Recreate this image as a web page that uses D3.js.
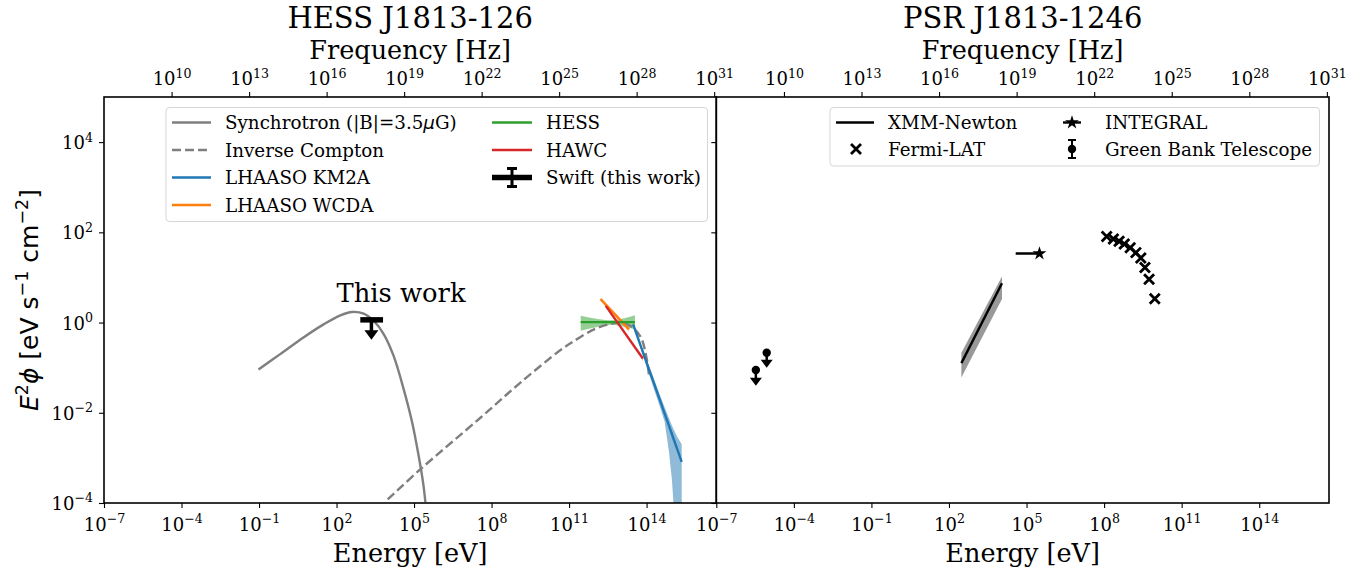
<!doctype html>
<html>
<head>
<meta charset="utf-8">
<script src="https://cdnjs.cloudflare.com/ajax/libs/d3/7.8.5/d3.min.js"></script>
<style>
body { margin: 0; background: #fff; }
svg text { font-family: "DejaVu Serif", serif; fill: #000; }
</style>
</head>
<body>
<svg id="chart" width="1367" height="570"></svg>
<script>
// values are log10 of energy [eV] and of E^2 phi [eV s^-1 cm^-2]

// HESS J1813-126 panel
const syncLogE = [-1.02, -0.18, 0.72, 1.50, 2.15, 2.60, 3.05, 3.44, 3.83, 4.21, 4.60, 4.93, 5.18, 5.35, 5.44];
const syncLogF = [-1.04, -0.70, -0.33, -0.04, 0.16, 0.235, 0.20, 0.035, -0.26, -0.74, -1.48, -2.22, -2.96, -3.55, -3.98];
const icLogE = [3.98, 5.25, 7.57, 9.12, 10.67, 11.19, 11.97, 12.53, 13.0, 13.39, 13.78, 13.97, 14.09];
const icLogF = [-3.92, -3.25, -2.11, -1.33, -0.61, -0.41, -0.15, -0.04, 0.0, -0.08, -0.33, -0.70, -1.15];

const km2aLogE = [13.48, 13.8, 14.16, 14.5, 14.7, 14.87, 14.98, 15.04, 15.2, 15.36];
const km2aLogF = [-0.04, -0.56, -1.14, -1.69, -2.02, -2.29, -2.47, -2.57, -2.83, -3.09];
const km2aHi = [0.0, -0.52, -1.07, -1.58, -1.88, -2.12, -2.28, -2.36, -2.55, -2.70];
const km2aLo = [-0.08, -0.62, -1.26, -1.84, -2.2, -2.88, -3.48, -3.99, -5.0, -5.0];

const wcdaLogE = [12.22, 13.32];
const wcdaLogF = [0.52, -0.15];
const wcdaHi = [0.56, -0.10];
const wcdaLo = [0.48, -0.21];

const hessLogE = [11.45, 12.0, 12.67, 13.1, 13.55];
const hessLogF = [0.01, 0.01, 0.01, 0.01, 0.01];
const hessHi = [0.15, 0.09, 0.05, 0.09, 0.16];
const hessLo = [-0.18, -0.11, -0.05, -0.09, -0.15];

const hawcLogE = [12.42, 13.86];
const hawcLogF = [0.37, -0.80];
const hawcHi = [0.39, -0.75];
const hawcLo = [0.35, -0.86];

const swiftLogE = [3.35];
const swiftLogELo = [2.92];
const swiftLogEHi = [3.80];
const swiftLogF = [0.06];
const swiftTipLogF = [-0.38];

// PSR J1813-1246 panel
const gbtLogE = [-5.47, -5.05];
const gbtLogF = [-1.05, -0.67];
const gbtTipLogF = [-1.40, -1.00];

const xmmLogE = [2.48, 4.05];
const xmmLogF = [-0.90, 0.87];
const xmmHi = [-0.67, 1.02];
const xmmLo = [-1.22, 0.52];

const integralLogE = [5.50];
const integralLogELo = [4.58];
const integralLogEHi = [5.60];
const integralLogF = [1.53];

const fermiLogE = [8.10, 8.36, 8.58, 8.78, 9.01, 9.23, 9.42, 9.58, 9.74, 9.96];
const fermiLogF = [1.91, 1.85, 1.80, 1.74, 1.66, 1.55, 1.43, 1.22, 0.96, 0.53];

// ticks (exponents)
const energyTicks = [-7, -4, -1, 2, 5, 8, 11, 14];
const freqTicks = [10, 13, 16, 19, 22, 25, 28, 31];
const fluxTicks = [-4, -2, 0, 2, 4];

const hzPerEv = 2.418e14;
const eDomain = [1e-7, 5e16];
const yTop = 97, yBot = 503;

const svg = d3.select("#chart");
const y = d3.scaleLog().domain([1e-4, 1e5]).range([yBot, yTop]);

const panels = [
  { x0: 104, x1: 716.3, title: "HESS J1813-126", id: "left" },
  { x0: 716.3, x1: 1329, title: "PSR J1813-1246", id: "right" }
];

const sup = s => s.replace("-", "\u2212");

function powLabel(sel, fs) {
  sel.each(function(d) {
    const t = d3.select(this);
    const exp = Math.round(Math.log10(d));
    t.text(null);
    t.append("tspan").text("10");
    t.append("tspan").attr("dy", -fs * 0.42).attr("font-size", fs * 0.7).text(sup(String(exp)));
  });
}

function styleAxis(g) {
  g.attr("font-family", null).attr("font-size", null);
  g.select(".domain").remove();
  g.selectAll(".tick line").attr("stroke", "#000").attr("stroke-width", 1.1);
}

panels.forEach(p => {
  p.x = d3.scaleLog().domain(eDomain).range([p.x0, p.x1]);
  p.xf = d3.scaleLog().domain(eDomain.map(e => e * hzPerEv)).range([p.x0, p.x1]);

  svg.append("clipPath").attr("id", "clip-" + p.id)
    .append("rect").attr("x", p.x0).attr("y", yTop).attr("width", p.x1 - p.x0).attr("height", yBot - yTop);

  // bottom axis
  const gb = svg.append("g").attr("transform", `translate(0,${yBot})`)
    .call(d3.axisBottom(p.x).tickValues(energyTicks.map(e => Math.pow(10, e))).tickSize(5).tickPadding(4));
  styleAxis(gb);
  gb.selectAll(".tick text").attr("font-size", 18).attr("dy", "1.05em").call(powLabel, 18);

  // top axis (frequency)
  const gt = svg.append("g").attr("transform", `translate(0,${yTop})`)
    .call(d3.axisTop(p.xf).tickValues(freqTicks.map(e => Math.pow(10, e))).tickSize(5).tickPadding(5));
  styleAxis(gt);
  gt.selectAll(".tick text").attr("font-size", 18).attr("dy", "-0.1em").call(powLabel, 18);

  // y ticks on the left side of each panel
  const gl = svg.append("g").attr("transform", `translate(${p.x0},0)`)
    .call(d3.axisLeft(y).tickValues(fluxTicks.map(e => Math.pow(10, e))).tickSize(5).tickPadding(6));
  styleAxis(gl);
  if (p.id === "left") {
    gl.selectAll(".tick text").attr("font-size", 18).attr("dy", "0.36em").call(powLabel, 18);
  } else {
    gl.selectAll(".tick text").remove();
  }

  svg.append("text").attr("x", (p.x0 + p.x1) / 2).attr("y", 28).attr("text-anchor", "middle")
    .attr("font-size", 29).text(p.title);
  svg.append("text").attr("x", (p.x0 + p.x1) / 2).attr("y", 59).attr("text-anchor", "middle")
    .attr("font-size", 25.5).text("Frequency [Hz]");
  svg.append("text").attr("x", (p.x0 + p.x1) / 2).attr("y", 562).attr("text-anchor", "middle")
    .attr("font-size", 25.5).text("Energy [eV]");
});

const L = panels[0], R = panels[1];
const P = v => Math.pow(10, v);

function rows(es, fs, hi, lo) {
  return es.map((e, i) => ({ e: e, f: fs[i], hi: hi ? hi[i] : null, lo: lo ? lo[i] : null }));
}
function band(p) {
  return d3.area().x(d => p.x(P(d.e))).y0(d => y(P(d.lo))).y1(d => y(P(d.hi)));
}
function line(p, curve) {
  return d3.line().x(d => p.x(P(d.e))).y(d => y(P(d.f))).curve(curve || d3.curveLinear);
}

const LW = 2.4;
const DASH = "9,4";

// ---------- left panel ----------
const gL = svg.append("g").attr("clip-path", "url(#clip-left)");

const km2a = rows(km2aLogE, km2aLogF, km2aHi, km2aLo);
const wcda = rows(wcdaLogE, wcdaLogF, wcdaHi, wcdaLo);
const hess = rows(hessLogE, hessLogF, hessHi, hessLo);
const hawc = rows(hawcLogE, hawcLogF, hawcHi, hawcLo);

gL.append("path").datum(km2a).attr("d", band(L)).attr("fill", "#1f77b4").attr("opacity", 0.5);
gL.append("path").datum(hess).attr("d", band(L).curve(d3.curveMonotoneX)).attr("fill", "#2ca02c").attr("opacity", 0.5);
gL.append("path").datum(wcda).attr("d", band(L)).attr("fill", "#ff7f0e").attr("opacity", 0.3);
gL.append("path").datum(hawc).attr("d", band(L)).attr("fill", "#d62728").attr("opacity", 0.3);

gL.append("path").datum(rows(syncLogE, syncLogF)).attr("d", line(L, d3.curveCatmullRom))
  .attr("fill", "none").attr("stroke", "#7f7f7f").attr("stroke-width", LW);
gL.append("path").datum(rows(icLogE, icLogF)).attr("d", line(L, d3.curveCatmullRom))
  .attr("fill", "none").attr("stroke", "#7f7f7f").attr("stroke-width", LW).attr("stroke-dasharray", DASH);

[[km2a, "#1f77b4"], [wcda, "#ff7f0e"], [hess, "#2ca02c"], [hawc, "#d62728"]].forEach(([d, c]) => {
  gL.append("path").datum(d).attr("d", line(L)).attr("fill", "none").attr("stroke", c).attr("stroke-width", LW);
});

function arrowDown(g, cx, y0, tip, stem, hw, hh) {
  g.append("line").attr("x1", cx).attr("x2", cx).attr("y1", y0).attr("y2", tip - hh + 1)
    .attr("stroke", "#000").attr("stroke-width", stem);
  g.append("path").attr("d", `M${cx - hw},${tip - hh}L${cx + hw},${tip - hh}L${cx},${tip}Z`).attr("fill", "#000");
}

swiftLogE.forEach((e, i) => {
  const cx = L.x(P(e)), cy = y(P(swiftLogF[i]));
  arrowDown(gL, cx, cy, y(P(swiftTipLogF[i])), 3.5, 7, 9.5);
  gL.append("line").attr("x1", L.x(P(swiftLogELo[i]))).attr("x2", L.x(P(swiftLogEHi[i])))
    .attr("y1", cy).attr("y2", cy).attr("stroke", "#000").attr("stroke-width", 5.5);
});

svg.append("text").attr("x", 401).attr("y", 302).attr("text-anchor", "middle").attr("font-size", 25.8).text("This work");

// ---------- right panel ----------
const gR = svg.append("g").attr("clip-path", "url(#clip-right)");

const xmm = rows(xmmLogE, xmmLogF, xmmHi, xmmLo);
gR.append("path").datum(xmm).attr("d", band(R)).attr("fill", "#7f7f7f").attr("opacity", 0.8);
gR.append("path").datum(xmm).attr("d", line(R)).attr("fill", "none").attr("stroke", "#000").attr("stroke-width", LW);

gbtLogE.forEach((e, i) => {
  const cx = R.x(P(e)), cy = y(P(gbtLogF[i]));
  arrowDown(gR, cx, cy, y(P(gbtTipLogF[i])), 2.5, 6, 8);
  gR.append("circle").attr("cx", cx).attr("cy", cy).attr("r", 4.2).attr("fill", "#000");
});

integralLogE.forEach((e, i) => {
  const cy = y(P(integralLogF[i]));
  gR.append("line").attr("x1", R.x(P(integralLogELo[i]))).attr("x2", R.x(P(integralLogEHi[i])))
    .attr("y1", cy).attr("y2", cy).attr("stroke", "#000").attr("stroke-width", LW);
  gR.append("path").attr("d", d3.symbol(d3.symbolStar, 60)())
    .attr("transform", `translate(${R.x(P(e))},${cy})`).attr("fill", "#000");
});

const xMark = s => `M${-s},${-s}L${s},${s}M${-s},${s}L${s},${-s}`;
fermiLogE.forEach((e, i) => {
  gR.append("path").attr("d", xMark(5))
    .attr("transform", `translate(${R.x(P(e))},${y(P(fermiLogF[i]))})`)
    .attr("stroke", "#000").attr("stroke-width", 2.8).attr("fill", "none");
});

// frames
panels.forEach(p => {
  svg.append("rect").attr("x", p.x0).attr("y", yTop).attr("width", p.x1 - p.x0).attr("height", yBot - yTop)
    .attr("fill", "none").attr("stroke", "#000").attr("stroke-width", 1.6);
});

// y label
const yl = svg.append("text").attr("transform", "translate(38,300) rotate(-90)")
  .attr("text-anchor", "middle").attr("font-size", 25).style("font-family", "'DejaVu Sans', sans-serif");
yl.append("tspan").attr("font-style", "italic").text("E");
yl.append("tspan").attr("dy", -10).attr("font-size", 17.5).text("2");
yl.append("tspan").attr("dy", 10).attr("font-style", "italic").text("\u03d5");
yl.append("tspan").text(" [eV s");
yl.append("tspan").attr("dy", -10).attr("font-size", 17.5).text("\u22121");
yl.append("tspan").attr("dy", 10).text(" cm");
yl.append("tspan").attr("dy", -10).attr("font-size", 17.5).text("\u22122");
yl.append("tspan").attr("dy", 10).text("]");

// ---------- legends ----------
function legendBox(x, y0, w, h) {
  svg.append("rect").attr("x", x).attr("y", y0).attr("width", w).attr("height", h).attr("rx", 3.5)
    .attr("fill", "#fff").attr("fill-opacity", 0.8).attr("stroke", "#d6d6d6").attr("stroke-width", 1);
}
function legendText(x, cy, txt) {
  return svg.append("text").attr("x", x).attr("y", cy + 6.5).attr("font-size", 18.3).text(txt);
}
function legendLine(x1, x2, cy, color, dash, w) {
  svg.append("line").attr("x1", x1).attr("x2", x2).attr("y1", cy).attr("y2", cy)
    .attr("stroke", color).attr("stroke-width", w || LW).attr("stroke-dasharray", dash || null);
}

legendBox(166, 107.5, 541.5, 114);
const leftCol1 = [
  { label: "Synchrotron", color: "#7f7f7f" },
  { label: "Inverse Compton", color: "#7f7f7f", dash: DASH },
  { label: "LHAASO KM2A", color: "#1f77b4" },
  { label: "LHAASO WCDA", color: "#ff7f0e" }
];
const leftRows = [122.5, 150, 177.5, 205];
leftCol1.forEach((d, i) => {
  legendLine(172, 211, leftRows[i], d.color, d.dash);
  const t = legendText(225, leftRows[i], d.label);
  if (i === 0) {
    t.text("Synchrotron (|B|=3.5");
    t.append("tspan").attr("font-style", "italic").style("font-family", "'DejaVu Sans', sans-serif").text("\u03bc");
    t.append("tspan").text("G)");
  }
});
legendLine(492, 532, leftRows[0], "#2ca02c");
legendText(546, leftRows[0], "HESS");
legendLine(492, 532, leftRows[1], "#d62728");
legendText(546, leftRows[1], "HAWC");
legendLine(492, 532, leftRows[2], "#000", null, 5.5);
svg.append("path").attr("d", `M512,${leftRows[2] - 9}V${leftRows[2] + 9}M507,${leftRows[2] - 9}H517M507,${leftRows[2] + 9}H517`)
  .attr("stroke", "#000").attr("stroke-width", 3);
legendText(546, leftRows[2], "Swift (this work)");

legendBox(830, 107.5, 489.5, 58.5);
const rightRows = [122.5, 149];
legendLine(836, 874, rightRows[0], "#000");
legendText(888, rightRows[0], "XMM-Newton");
svg.append("path").attr("d", xMark(5)).attr("transform", `translate(856,${rightRows[1]})`)
  .attr("stroke", "#000").attr("stroke-width", 2.8);
legendText(888, rightRows[1], "Fermi-LAT");
legendLine(1063, 1081, rightRows[0], "#000");
svg.append("path").attr("d", d3.symbol(d3.symbolStar, 60)()).attr("transform", `translate(1072,${rightRows[0]})`);
legendText(1105, rightRows[0], "INTEGRAL");
svg.append("path").attr("d", `M1072,${rightRows[1] - 9}V${rightRows[1] + 9}M1068,${rightRows[1] - 9}H1076M1068,${rightRows[1] + 9}H1076`)
  .attr("stroke", "#000").attr("stroke-width", 2);
svg.append("circle").attr("cx", 1072).attr("cy", rightRows[1]).attr("r", 4.2);
legendText(1105, rightRows[1], "Green Bank Telescope");
</script>
</body>
</html>
